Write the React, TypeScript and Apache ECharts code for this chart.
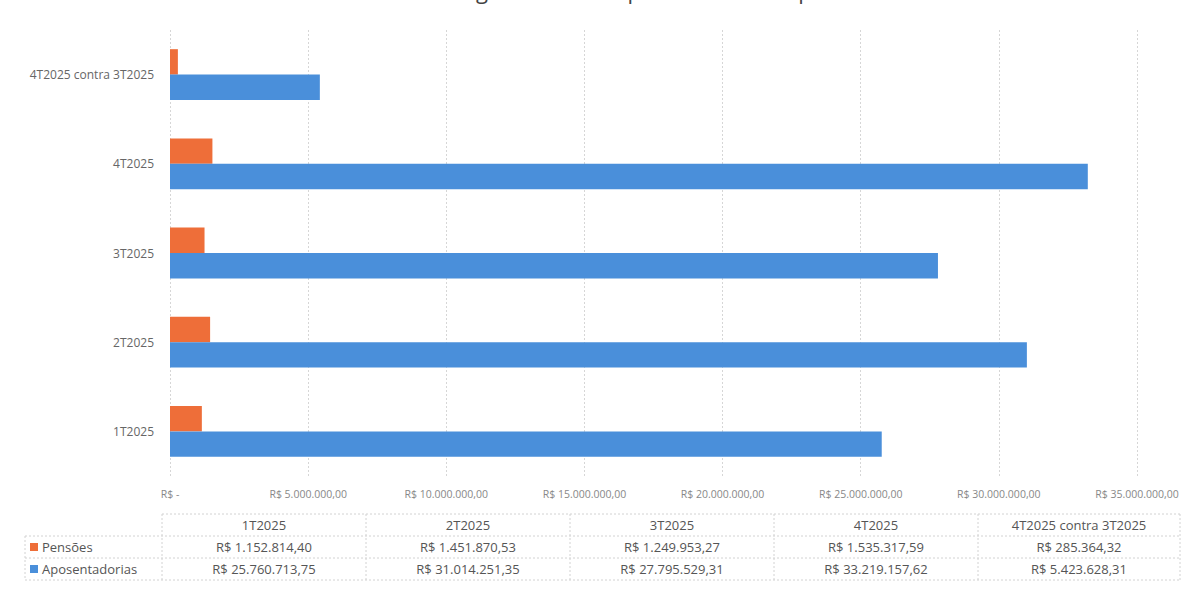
import React, { useEffect, useRef } from "react";
import * as echarts from "echarts";

const categories = ["1T2025", "2T2025", "3T2025", "4T2025", "4T2025 contra 3T2025"];
const pensoes = [1152814.4, 1451870.53, 1249953.27, 1535317.59, 285364.32];
const aposentadorias = [25760713.75, 31014251.35, 27795529.31, 33219157.62, 5423628.31];
const seriesNames = ["Pensões", "Aposentadorias"];
const xTicks = [0, 5000000, 10000000, 15000000, 20000000, 25000000, 30000000, 35000000];
const titleText = "Gráfico 6 - Pagamentos de aposentadorias e pensões";

const ORANGE = "#EE6E39";
const BLUE = "#4A8FDA";

function fmtBRL(v: number): string {
  const fixed = v.toFixed(2);
  const [intPart, dec] = fixed.split(".");
  const withDots = intPart.replace(/\B(?=(\d{3})+(?!\d))/g, ".");
  return withDots + "," + dec;
}

export default function App() {
  const ref = useRef<HTMLDivElement>(null);
  useEffect(() => {
    document.body.style.margin = "0";
    const chart = echarts.init(ref.current!, null, { renderer: "svg" });
    const font = "'Open Sans', 'Noto Sans', sans-serif";

    const colX = [162, 366, 570, 774, 978, 1180];
    const rowY = [514, 536, 558, 580];
    const lineStyle = { stroke: "#d2d2d2", lineWidth: 1, lineDash: [2, 2] };
    const graphics: any[] = [];

    // title (cut off at top edge, as in the reference)
    graphics.push({
      type: "text",
      x: 612,
      y: 1,
      style: {
        text: titleText,
        font: `22px ${font}`,
        fill: "#444",
        textAlign: "center",
        textVerticalAlign: "bottom",
      },
    });

    graphics.push({ type: "line", shape: { x1: colX[0], y1: rowY[0], x2: colX[5], y2: rowY[0] }, style: lineStyle });
    for (let i = 1; i < rowY.length; i++) {
      graphics.push({ type: "line", shape: { x1: 25, y1: rowY[i], x2: colX[5], y2: rowY[i] }, style: lineStyle });
    }
    colX.forEach((x) => {
      graphics.push({ type: "line", shape: { x1: x, y1: rowY[0], x2: x, y2: rowY[3] }, style: lineStyle });
    });
    graphics.push({ type: "line", shape: { x1: 25, y1: rowY[1], x2: 25, y2: rowY[3] }, style: lineStyle });

    categories.forEach((c, i) => {
      graphics.push({
        type: "text",
        x: (colX[i] + colX[i + 1]) / 2,
        y: (rowY[0] + rowY[1]) / 2,
        style: { text: c, font: `13px ${font}`, fill: "#555", textAlign: "center", textVerticalAlign: "middle" },
      });
    });
    const rows = [
      { name: seriesNames[0], color: ORANGE, data: pensoes },
      { name: seriesNames[1], color: BLUE, data: aposentadorias },
    ];
    rows.forEach((r, ri) => {
      const cy = (rowY[ri + 1] + rowY[ri + 2]) / 2;
      graphics.push({ type: "rect", shape: { x: 30, y: cy - 4, width: 8, height: 8 }, style: { fill: r.color } });
      graphics.push({
        type: "text",
        x: 42,
        y: cy,
        style: { text: r.name, font: `13px ${font}`, fill: "#555", textAlign: "left", textVerticalAlign: "middle" },
      });
      r.data.forEach((v, i) => {
        graphics.push({
          type: "text",
          x: (colX[i] + colX[i + 1]) / 2,
          y: cy,
          style: { text: "R$ " + fmtBRL(v), font: `13px ${font}`, fill: "#555", textAlign: "center", textVerticalAlign: "middle" },
        });
      });
    });

    chart.setOption({
      animation: false,
      backgroundColor: "#ffffff",
      grid: { left: 170, right: 62, top: 30, bottom: 124, containLabel: false },
      xAxis: {
        type: "value",
        min: xTicks[0],
        max: xTicks[xTicks.length - 1],
        interval: xTicks[1] - xTicks[0],
        axisLine: { show: false },
        axisTick: { show: false },
        axisLabel: {
          color: "#888",
          fontSize: 10.5,
          fontFamily: font,
          margin: 12,
          formatter: (v: number) => (v === 0 ? "R$ -" : "R$ " + fmtBRL(v)),
        },
        splitLine: { show: true, lineStyle: { color: "#d6d6d6", type: [2, 2], width: 1 } },
      },
      yAxis: {
        type: "category",
        data: categories,
        axisLine: { show: false },
        axisTick: { show: false },
        axisLabel: { color: "#666", fontSize: 12, fontFamily: font, margin: 16 },
      },
      series: [
        {
          name: seriesNames[0],
          type: "bar",
          data: pensoes,
          itemStyle: { color: ORANGE },
          barGap: "0%",
          barCategoryGap: "43%",
        },
        {
          name: seriesNames[1],
          type: "bar",
          data: aposentadorias,
          itemStyle: { color: BLUE },
          barGap: "0%",
          barCategoryGap: "43%",
        },
      ],
      graphic: graphics,
    });
    return () => chart.dispose();
  }, []);
  return <div ref={ref} style={{ width: 1199, height: 600 }} />;
}
